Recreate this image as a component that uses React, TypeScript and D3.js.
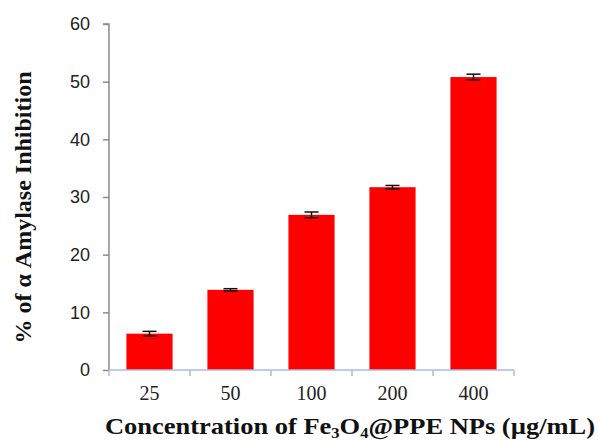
import * as d3 from "d3";
import React, { useEffect, useRef } from "react";

const categories = ["25", "50", "100", "200", "400"];
const values = [6.3, 13.9, 26.9, 31.7, 50.8];
const errors = [0.4, 0.2, 0.5, 0.3, 0.5];
const yTicks = [0, 10, 20, 30, 40, 50, 60];

const App = () => {
  const svgRef = useRef<SVGSVGElement>(null);

  const width = 598;
  const height = 442;
  const left = 109;
  const right = 514;
  const top = 24;
  const bottom = 370;

  useEffect(() => {
    const svg = d3.select(svgRef.current);
    svg.selectAll("*").remove();

    const x = d3.scaleBand().domain(categories).range([left, right]).paddingInner(0.43).paddingOuter(0.215);
    const y = d3.scaleLinear().domain([0, 60]).range([bottom, top]);

    // bars
    svg.append("g")
      .selectAll("rect")
      .data(values)
      .enter()
      .append("rect")
      .attr("x", (d, i) => x(categories[i])!)
      .attr("y", (d) => y(d))
      .attr("width", x.bandwidth())
      .attr("height", (d) => bottom - y(d))
      .attr("fill", "#ff0000");

    // error bars
    const eb = svg.append("g").attr("stroke", "#111").attr("stroke-width", 1.5);
    values.forEach((v, i) => {
      const cx = x(categories[i])! + x.bandwidth() / 2;
      const e = errors[i];
      eb.append("line").attr("x1", cx).attr("x2", cx).attr("y1", y(v + e)).attr("y2", y(v - e));
      eb.append("line").attr("x1", cx - 7).attr("x2", cx + 7).attr("y1", y(v + e)).attr("y2", y(v + e));
      eb.append("line").attr("x1", cx - 7).attr("x2", cx + 7).attr("y1", y(v - e)).attr("y2", y(v - e));
    });

    // y axis
    const yAxis = d3.axisLeft(y).tickValues(yTicks).tickSize(6).tickPadding(13);
    const yg = svg.append("g").attr("transform", `translate(${left},0)`).call(yAxis);
    yg.select(".domain").attr("stroke", "#8c8c8c").attr("stroke-width", 1.5).attr("d", `M-6,${top}H0V${bottom}`);
    yg.selectAll(".tick line").attr("stroke", "#8c8c8c").attr("stroke-width", 1.5);
    yg.selectAll(".tick text")
      .attr("fill", "#222")
      .style("font", "18px 'Liberation Sans', Arial, sans-serif");

    // x axis
    const xg = svg.append("g").attr("transform", `translate(0,${bottom})`);
    xg.append("line").attr("x1", left).attr("x2", right).attr("y1", 0).attr("y2", 0)
      .attr("stroke", "#a9bde6").attr("stroke-width", 1.5);
    const bounds = categories.map((c) => x(c)! - (x.step() - x.bandwidth()) / 2).concat([right]);
    xg.selectAll(".xt")
      .data(bounds)
      .enter()
      .append("line")
      .attr("x1", (d) => d).attr("x2", (d) => d)
      .attr("y1", 0).attr("y2", 6)
      .attr("stroke", "#a9bde6").attr("stroke-width", 1.5);
    xg.selectAll("text")
      .data(categories)
      .enter()
      .append("text")
      .attr("x", (d) => x(d)! + x.bandwidth() / 2)
      .attr("y", 30)
      .attr("text-anchor", "middle")
      .attr("fill", "#222")
      .style("font", "20px 'Liberation Serif', 'Times New Roman', serif")
      .text((d) => d);

    // x title
    const xt = svg.append("text")
      .attr("x", 105)
      .attr("y", 434)
      .attr("textLength", 490)
      .attr("lengthAdjust", "spacingAndGlyphs")
      .attr("fill", "#111")
      .style("font", "bold 24px 'Liberation Serif', 'Times New Roman', serif");
    xt.append("tspan").text("Concentration of Fe");
    xt.append("tspan").attr("dy", 4).style("font-size", "15px").text("3");
    xt.append("tspan").attr("dy", -4).text("O");
    xt.append("tspan").attr("dy", 4).style("font-size", "15px").text("4");
    xt.append("tspan").attr("dy", -4).text("@PPE NPs (µg/mL)");

    // y title
    svg.append("text")
      .attr("transform", `translate(31,207.5) rotate(-90)`)
      .attr("text-anchor", "middle")
      .attr("fill", "#111")
      .style("font", "bold 24px 'Liberation Serif', 'Times New Roman', serif")
      .text("% of α Amylase Inhibition");
  }, []);

  return <svg ref={svgRef} width={width} height={height} style={{ position: "absolute", left: 0, top: 0, background: "#fff" }} />;
};

export default App;
